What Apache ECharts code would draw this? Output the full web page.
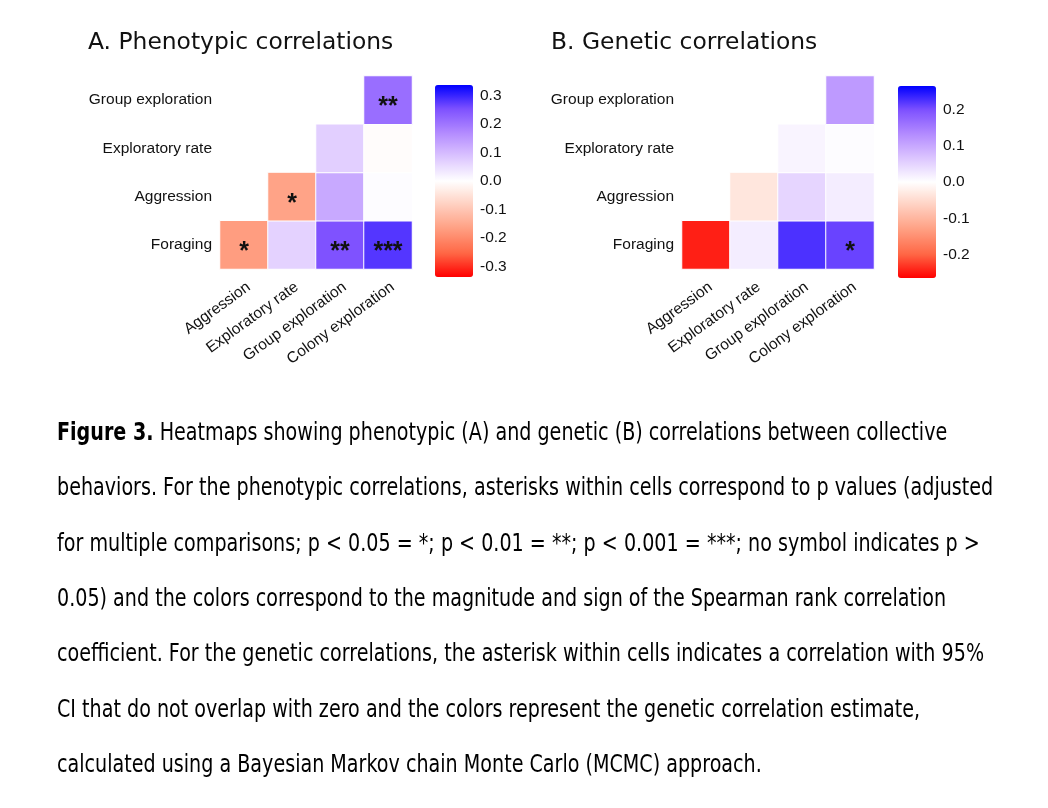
<!DOCTYPE html>
<html>
<head>
<meta charset="utf-8">
<script src="https://cdn.jsdelivr.net/npm/echarts@6/dist/echarts.min.js"></script>
<style>
html,body{margin:0;padding:0;background:#fff;}
#chart{width:1048px;height:808px;}
</style>
</head>
<body>
<div id="chart"></div>
<script>
// ---------- data ----------
const rowLabels = ['Foraging', 'Aggression', 'Exploratory rate', 'Group exploration'];
const colLabels = ['Aggression', 'Exploratory rate', 'Group exploration', 'Colony exploration'];

// Phenotypic (Spearman) correlations, one array per row, columns as colLabels
const phenoForaging   = [-0.17, 0.065, 0.25, 0.28];
const phenoAggression = [null, -0.16, 0.125, 0.005];
const phenoExplRate   = [null, null, 0.07, -0.005];
const phenoGroupExpl  = [null, null, null, 0.21];
const phenoStarsForaging   = ['*', '', '**', '***'];
const phenoStarsAggression = ['', '*', '', ''];
const phenoStarsExplRate   = ['', '', '', ''];
const phenoStarsGroupExpl  = ['', '', '', '**'];

// Genetic correlations
const geneForaging   = [-0.245, 0.02, 0.225, 0.21];
const geneAggression = [null, -0.035, 0.048, 0.02];
const geneExplRate   = [null, null, 0.012, 0.003];
const geneGroupExpl  = [null, null, null, 0.115];
const geneStarsForaging   = ['', '', '', '*'];
const geneStarsAggression = ['', '', '', ''];
const geneStarsExplRate   = ['', '', '', ''];
const geneStarsGroupExpl  = ['', '', '', ''];

const phenoLimits = [-0.336, 0.336];
const geneLimits  = [-0.265, 0.265];
const phenoTicks = [-0.3, -0.2, -0.1, 0.0, 0.1, 0.2, 0.3];
const geneTicks  = [-0.2, -0.1, 0.0, 0.1, 0.2];

const titleA = 'A. Phenotypic correlations';
const titleB = 'B. Genetic correlations';
const captionLines = [
  '{b|Figure 3.} Heatmaps showing phenotypic (A) and genetic (B) correlations between collective',
  'behaviors. For the phenotypic correlations, asterisks within cells correspond to p values (adjusted',
  'for multiple comparisons; p < 0.05 = *; p < 0.01 = **; p < 0.001 = ***; no symbol indicates p >',
  '0.05) and the colors correspond to the magnitude and sign of the Spearman rank correlation',
  'coefficient. For the genetic correlations, the asterisk within cells indicates a correlation with 95%',
  'CI that do not overlap with zero and the colors represent the genetic correlation estimate,',
  'calculated using a Bayesian Markov chain Monte Carlo (MCMC) approach.'
];

// ---------- build ----------
function buildCells(rows, stars) {
  const out = [];
  rows.forEach((row, yi) => {
    row.forEach((v, xi) => {
      if (v !== null) out.push({ value: [xi, yi, v], stars: stars[yi][xi] });
    });
  });
  return out;
}
const phenoData = buildCells(
  [phenoForaging, phenoAggression, phenoExplRate, phenoGroupExpl],
  [phenoStarsForaging, phenoStarsAggression, phenoStarsExplRate, phenoStarsGroupExpl]);
const geneData = buildCells(
  [geneForaging, geneAggression, geneExplRate, geneGroupExpl],
  [geneStarsForaging, geneStarsAggression, geneStarsExplRate, geneStarsGroupExpl]);

// Lab-like white->red / white->blue gradient (ggplot gradient2 look)
const gradColors = ['#ff0000', '#ff6846', '#ff9e81', '#ffcfbf', '#ffffff', '#dcc5ff', '#b38bff', '#7e51ff', '#0000ff'];

const axisFont = 'Liberation Sans, Arial, sans-serif';
const textCol = '#111111';

const panels = [
  { left: 220, top: 76, cbLeft: 435, cbTop: 85, limits: phenoLimits, ticks: phenoTicks },
  { left: 682, top: 76, cbLeft: 898, cbTop: 86, limits: geneLimits, ticks: geneTicks }
];

const grid = [], xAxis = [], yAxis = [], visualMap = [];
panels.forEach((p, i) => {
  grid.push({ left: p.left, top: p.top, width: 192, height: 193 });
  grid.push({ left: p.cbLeft, top: p.cbTop, width: 38, height: 192 });
  xAxis.push({
    type: 'category', gridIndex: 2 * i, data: colLabels,
    axisLine: { show: false }, axisTick: { show: false }, splitLine: { show: false },
    axisLabel: { rotate: 36, margin: 10, verticalAlign: 'top', fontFamily: axisFont, fontSize: 15.5, color: textCol, interval: 0 }
  });
  xAxis.push({ type: 'value', gridIndex: 2 * i + 1, show: false, min: 0, max: 1 });
  yAxis.push({
    type: 'category', gridIndex: 2 * i, data: rowLabels,
    axisLine: { show: false }, axisTick: { show: false }, splitLine: { show: false },
    axisLabel: { margin: 8, fontFamily: axisFont, fontSize: 15.5, color: textCol, padding: [4, 0, 0, 0] }
  });
  yAxis.push({
    type: 'value', gridIndex: 2 * i + 1, position: 'right', min: p.limits[0], max: p.limits[1],
    axisLine: { show: false }, splitLine: { show: false },
    axisTick: { show: true, inside: true, length: 7, lineStyle: { color: '#ffffff', width: 1 }, customValues: p.ticks },
    axisLabel: { margin: 7, fontFamily: axisFont, fontSize: 15.5, color: textCol, customValues: p.ticks,
      padding: [6, 0, 0, 0], formatter: v => v.toFixed(1) }
  });
  yAxis.push({
    type: 'value', gridIndex: 2 * i + 1, position: 'left', min: p.limits[0], max: p.limits[1],
    axisLine: { show: false }, splitLine: { show: false },
    axisTick: { show: true, inside: true, length: 7, lineStyle: { color: '#ffffff', width: 1 }, customValues: p.ticks },
    axisLabel: { show: false }
  });
  visualMap.push({
    type: 'continuous', seriesIndex: i, min: p.limits[0], max: p.limits[1],
    inRange: { color: gradColors }, calculable: false, left: p.cbLeft, top: p.cbTop,
    itemWidth: 38, itemHeight: 192, padding: 0, z: 1, hoverLink: false
  });
});

function heatSeries(data, gi) {
  return {
    type: 'heatmap', xAxisIndex: gi, yAxisIndex: gi === 0 ? 0 : 3, data: data,
    itemStyle: { borderColor: '#ffffff', borderWidth: 1 },
    label: {
      show: true, formatter: p => p.data.stars, color: '#111111',
      fontFamily: axisFont, fontSize: 25, fontWeight: 'bold', offset: [0, 7]
    },
    emphasis: { disabled: true }
  };
}

const option = {
  backgroundColor: '#ffffff',
  animation: false,
  title: [
    { text: titleA, left: 83, top: 26, textStyle: { fontFamily: 'DejaVu Sans', fontSize: 23.4, fontWeight: 'normal', color: textCol } },
    { text: titleB, left: 546, top: 26, textStyle: { fontFamily: 'DejaVu Sans', fontSize: 23.4, fontWeight: 'normal', color: textCol } }
  ],
  grid: grid,
  xAxis: xAxis,
  yAxis: yAxis,
  visualMap: visualMap,
  series: [heatSeries(phenoData, 0), heatSeries(geneData, 2)],
  graphic: captionLines.map((t, i) => ({
    type: 'text', x: 57, y: 433.5 + i * 55.33, scaleX: 0.765, scaleY: 1,
    style: {
      text: t, fill: '#000000', font: '25px "DejaVu Sans"', verticalAlign: 'middle', align: 'left',
      rich: { b: { fontWeight: 'bold', fontFamily: 'DejaVu Sans', fontSize: 25, fill: '#000000' } }
    }
  }))
};

const chart = echarts.init(document.getElementById('chart'), null, { renderer: 'canvas' });
chart.setOption(option);
</script>
</body>
</html>
